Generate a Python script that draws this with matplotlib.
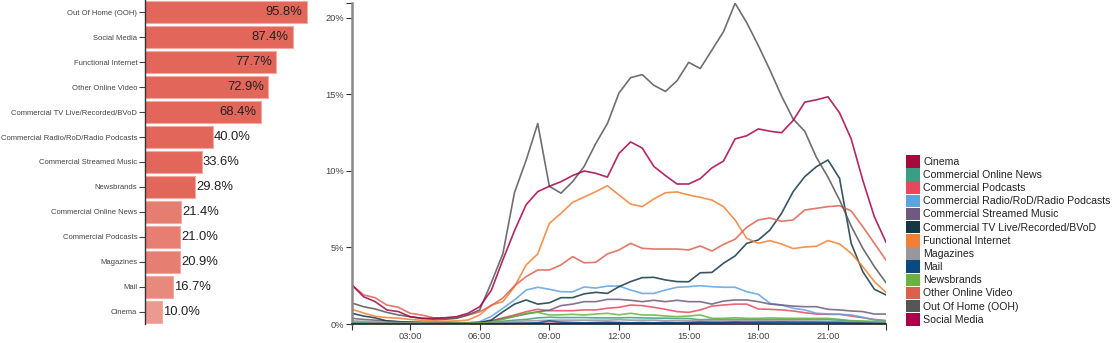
import matplotlib.pyplot as plt
import numpy as np
from matplotlib.colors import LinearSegmentedColormap, Normalize
from matplotlib.patches import Patch

plt.rcParams['font.family'] = ['Liberation Sans', 'DejaVu Sans']

# reach by channel (left panel)
reach_labels = ['Out Of Home (OOH)', 'Social Media', 'Functional Internet', 'Other Online Video',
                'Commercial TV Live/Recorded/BVoD', 'Commercial Radio/RoD/Radio Podcasts',
                'Commercial Streamed Music', 'Newsbrands', 'Commercial Online News',
                'Commercial Podcasts', 'Magazines', 'Mail', 'Cinema']
reach_values = [95.8, 87.4, 77.7, 72.9, 68.4, 40.0, 33.6, 29.8, 21.4, 21.0, 20.9, 16.7, 10.0]

# half-hour slots 00:30 .. 23:30
hours = np.arange(0.5, 24, 0.5)

cinema = [0.01, 0.01, 0.01, 0.01, 0.01, 0.01, 0.01, 0.01, 0.01, 0.01, 0.01, 0.01,
          0.01, 0.02, 0.02, 0.03, 0.03, 0.04, 0.05, 0.05, 0.05, 0.06, 0.06, 0.06,
          0.06, 0.07, 0.07, 0.08, 0.08, 0.08, 0.1, 0.1, 0.1, 0.12, 0.12, 0.14,
          0.15, 0.16, 0.16, 0.15, 0.15, 0.14, 0.12, 0.1, 0.08, 0.05, 0.04]
online_news = [0.08, 0.07, 0.06, 0.05, 0.04, 0.04, 0.03, 0.03, 0.03, 0.03, 0.04, 0.06,
               0.1, 0.18, 0.25, 0.3, 0.4, 0.44, 0.42, 0.42, 0.42, 0.4, 0.4, 0.4,
               0.42, 0.4, 0.38, 0.38, 0.36, 0.36, 0.28, 0.3, 0.3, 0.3, 0.3, 0.28,
               0.3, 0.3, 0.3, 0.3, 0.28, 0.28, 0.25, 0.2, 0.15, 0.12, 0.1]
podcasts = [0.12, 0.1, 0.08, 0.06, 0.05, 0.05, 0.04, 0.04, 0.04, 0.04, 0.04, 0.05,
            0.2, 0.4, 0.59, 0.8, 0.96, 0.87, 0.87, 0.87, 0.92, 0.92, 1.03, 1.09,
            1.24, 1.2, 1.09, 0.96, 0.81, 0.76, 0.92, 1.17, 1.24, 1.3, 1.3, 0.98,
            0.96, 0.92, 0.85, 0.74, 0.65, 0.63, 0.63, 0.52, 0.41, 0.3, 0.22]
radio = [0.1, 0.08, 0.07, 0.05, 0.05, 0.04, 0.04, 0.04, 0.04, 0.05, 0.06, 0.15,
         0.5, 1.03, 1.57, 2.22, 2.4, 2.27, 2.11, 2.1, 2.42, 2.35, 2.48, 2.48,
         2.22, 2.0, 2.0, 2.22, 2.4, 2.44, 2.5, 2.44, 2.4, 2.4, 2.11, 1.94,
         1.35, 1.24, 1.03, 0.92, 0.7, 0.66, 0.64, 0.59, 0.44, 0.26, 0.22]
streamed_music = [0.37, 0.3, 0.25, 0.2, 0.15, 0.12, 0.1, 0.1, 0.08, 0.08, 0.08, 0.1,
                  0.2, 0.35, 0.5, 0.65, 0.8, 0.9, 1.2, 1.3, 1.46, 1.46, 1.61, 1.61,
                  1.55, 1.46, 1.55, 1.46, 1.55, 1.46, 1.46, 1.3, 1.5, 1.57, 1.57, 1.46,
                  1.3, 1.24, 1.17, 1.13, 1.13, 0.96, 0.92, 0.85, 0.81, 0.65, 0.65]
commercial_tv = [0.7, 0.52, 0.4, 0.2, 0.15, 0.12, 0.1, 0.1, 0.1, 0.08, 0.08, 0.09,
                 0.26, 0.8, 1.3, 1.57, 1.3, 1.39, 1.72, 1.72, 1.97, 2.07, 2.0, 2.44,
                 2.77, 3.03, 3.05, 2.88, 2.77, 2.76, 3.35, 3.37, 3.97, 4.45, 5.27, 5.49,
                 6.14, 7.23, 8.65, 9.63, 10.28, 10.72, 9.52, 5.27, 3.42, 2.27, 1.9]
functional_internet = [0.96, 0.72, 0.5, 0.42, 0.38, 0.3, 0.24, 0.22, 0.18, 0.2, 0.26, 0.59,
                       1.24, 1.46, 2.44, 3.86, 4.58, 6.58, 7.23, 7.95, 8.3, 8.65, 9.04, 8.43,
                       7.84, 7.67, 8.17, 8.58, 8.63, 8.43, 8.28, 8.1, 7.67, 6.8, 5.6, 5.27,
                       5.45, 5.23, 4.93, 5.03, 5.08, 5.45, 5.23, 4.62, 3.75, 2.77, 2.07]
magazines = [0.2, 0.18, 0.15, 0.12, 0.1, 0.08, 0.07, 0.06, 0.05, 0.05, 0.05, 0.06,
             0.08, 0.12, 0.15, 0.2, 0.22, 0.25, 0.25, 0.25, 0.25, 0.25, 0.25, 0.28,
             0.25, 0.25, 0.25, 0.22, 0.22, 0.22, 0.2, 0.2, 0.2, 0.2, 0.2, 0.2,
             0.2, 0.18, 0.18, 0.18, 0.15, 0.15, 0.15, 0.12, 0.1, 0.08, 0.08]
mail = [0.02, 0.02, 0.02, 0.02, 0.02, 0.01, 0.01, 0.01, 0.01, 0.01, 0.01, 0.02,
        0.02, 0.03, 0.05, 0.06, 0.08, 0.2, 0.12, 0.1, 0.08, 0.1, 0.12, 0.1,
        0.08, 0.1, 0.08, 0.1, 0.08, 0.1, 0.12, 0.1, 0.1, 0.12, 0.1, 0.1,
        0.1, 0.12, 0.1, 0.1, 0.1, 0.08, 0.08, 0.06, 0.05, 0.04, 0.03]
newsbrands = [0.05, 0.05, 0.04, 0.04, 0.03, 0.03, 0.03, 0.03, 0.03, 0.04, 0.05, 0.05,
              0.12, 0.3, 0.5, 0.7, 0.76, 0.59, 0.6, 0.63, 0.59, 0.65, 0.7, 0.6,
              0.7, 0.59, 0.59, 0.52, 0.48, 0.52, 0.59, 0.37, 0.37, 0.41, 0.37, 0.37,
              0.4, 0.38, 0.37, 0.37, 0.37, 0.37, 0.3, 0.22, 0.2, 0.17, 0.15]
other_online_video = [2.55, 1.9, 1.72, 1.24, 1.09, 0.7, 0.59, 0.41, 0.35, 0.4, 0.59, 0.8,
                      1.2, 1.7, 2.5, 3.1, 3.53, 3.53, 3.86, 4.4, 4.0, 4.03, 4.58, 4.84,
                      5.27, 4.95, 4.9, 4.9, 4.9, 4.84, 5.1, 4.77, 5.2, 5.54, 6.32, 6.8,
                      6.93, 6.71, 6.8, 7.45, 7.56, 7.67, 7.73, 7.39, 6.36, 5.27, 4.18]
ooh = [1.37, 1.13, 0.98, 0.76, 0.59, 0.48, 0.37, 0.31, 0.31, 0.37, 0.59, 0.92,
       2.7, 4.6, 8.6, 10.7, 13.1, 9.0, 8.55, 9.3, 10.3, 11.8, 13.1, 15.1,
       16.1, 16.3, 15.6, 15.2, 15.9, 17.1, 16.7, 17.9, 19.1, 20.96, 19.7, 18.2,
       16.6, 14.9, 13.4, 12.6, 10.9, 9.6, 8.1, 6.4, 4.95, 3.75, 2.7]
social_media = [2.55, 1.78, 1.46, 0.92, 0.81, 0.48, 0.37, 0.37, 0.41, 0.48, 0.7, 1.13,
                2.2, 4.2, 6.1, 7.8, 8.65, 9.0, 9.3, 9.7, 10.0, 9.85, 9.6, 11.15,
                11.9, 11.5, 10.3, 9.7, 9.15, 9.15, 9.5, 10.2, 10.65, 12.1, 12.3, 12.75,
                12.6, 12.5, 13.3, 14.5, 14.65, 14.85, 13.8, 12.1, 9.4, 7.0, 5.35]

series_names = ['Cinema', 'Commercial Online News', 'Commercial Podcasts',
                'Commercial Radio/RoD/Radio Podcasts', 'Commercial Streamed Music',
                'Commercial TV Live/Recorded/BVoD', 'Functional Internet', 'Magazines', 'Mail',
                'Newsbrands', 'Other Online Video', 'Out Of Home (OOH)', 'Social Media']
series_values = [cinema, online_news, podcasts, radio, streamed_music, commercial_tv,
                 functional_internet, magazines, mail, newsbrands, other_online_video, ooh,
                 social_media]
series_colors = ['#a6093b', '#3a9e84', '#e8485e', '#5fa2dd', '#6d5a7e', '#123846', '#f47e32',
                 '#9a969b', '#0a4a80', '#6ab33e', '#dc6050', '#565656', '#a8004a']

fig = plt.figure(figsize=(11.17, 3.43), dpi=100)

# ---- left: reach bars ----
ax1 = fig.add_axes([145 / 1117, 1 - 324 / 343, 169 / 1117, 324 / 343])
cmap = LinearSegmentedColormap.from_list('reach', ['#efb3ab', '#e2675a'])
norm = Normalize(0, 30, clip=True)
ypos = np.arange(len(reach_labels))
ax1.barh(ypos, reach_values, height=0.88, color=cmap(norm(np.array(reach_values))),
         edgecolor='#f2aaa2', linewidth=0.8)
for y, v in zip(ypos, reach_values):
    if v > 50:
        ax1.text(v - 2.5, y, f'{v:.1f}%', ha='right', va='center', fontsize=9.4, color='#222')
    else:
        ax1.text(v + 0.6, y, f'{v:.1f}%', ha='left', va='center', fontsize=9.4, color='#222')
ax1.set_xlim(0, 100)
ax1.set_ylim(len(reach_labels) - 0.5, -0.5)
ax1.set_yticks(ypos)
ax1.set_yticklabels(reach_labels, fontsize=5.5, color='#444')
ax1.tick_params(axis='y', length=4, width=0.8, color='#444', pad=1.5)
ax1.set_xticks([])
for s in ['top', 'right', 'bottom']:
    ax1.spines[s].set_visible(False)
ax1.spines['left'].set_color('#333')
ax1.spines['left'].set_linewidth(1)

# ---- right: hourly lines ----
ax2 = fig.add_axes([352 / 1117, 1 - 324 / 343, 534 / 1117, (324 - 3.3) / 343])
for name, vals, c in zip(series_names, series_values, series_colors):
    ax2.plot(hours, vals, color=c, lw=1.2, alpha=0.85)
ax2.set_xlim(hours[0], hours[-1])
ax2.set_ylim(0, max(max(v) for v in series_values))
ax2.set_xticks([3, 6, 9, 12, 15, 18, 21])
ax2.set_xticklabels([f'{h:02d}:00' for h in [3, 6, 9, 12, 15, 18, 21]])
ax2.set_xticks([hours[0], hours[-1]], minor=True)
ax2.set_yticks([0, 5, 10, 15, 20])
ax2.set_yticklabels([f'{v}%' for v in [0, 5, 10, 15, 20]])
ax2.set_yticks([ax2.get_ylim()[1]], minor=True)
ax2.tick_params(axis='both', which='both', labelsize=6.7, labelcolor='#444', length=4,
                width=0.8, color='#333', pad=1.5)
for s in ['top', 'right']:
    ax2.spines[s].set_visible(False)
ax2.spines['left'].set_color('#888')
ax2.spines['left'].set_linewidth(1.8)
ax2.spines['bottom'].set_color('#222')
ax2.spines['bottom'].set_linewidth(1.2)

handles = [Patch(facecolor=c, edgecolor='none') for c in series_colors]
fig.legend(handles, series_names, loc='upper left', bbox_to_anchor=(906 / 1117, 1 - 155 / 343),
           frameon=False, fontsize=7.6, handlelength=1.3, handleheight=1.45, labelspacing=0.06,
           handletextpad=0.35, borderpad=0, borderaxespad=0, labelcolor='#222')

fig.savefig('out.png', dpi=100)
